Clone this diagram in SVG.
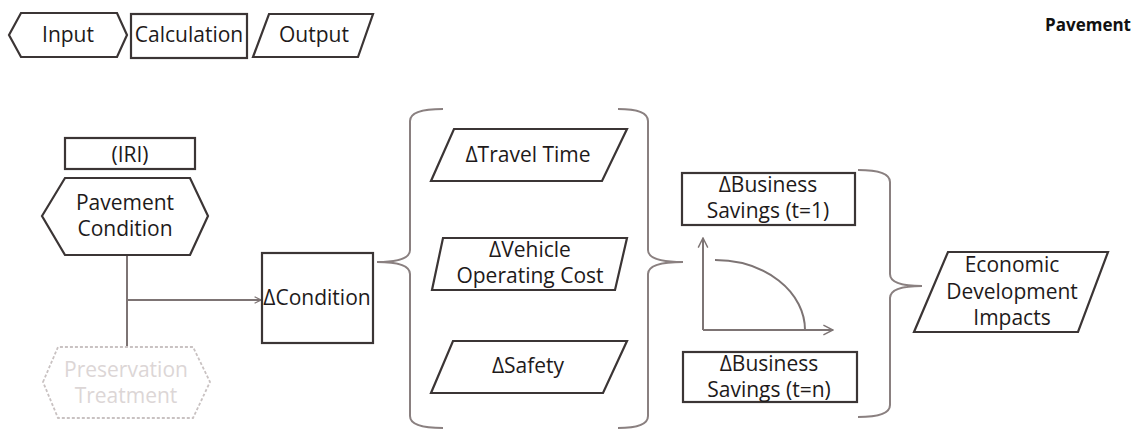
<svg xmlns="http://www.w3.org/2000/svg" width="1132" height="432" viewBox="0 0 1132 432">
<defs>
<style>
.shape{fill:none;stroke:#3b3535;stroke-width:2.2}
.dash{fill:none;stroke:#c9c2c2;stroke-width:1.8;stroke-dasharray:3,2}
.conn{fill:none;stroke:#7d7474;stroke-width:2}
.brace{fill:none;stroke:#8a8080;stroke-width:2}
.t{font-family:"Open Sans","Noto Sans",sans-serif;font-size:21px;fill:#1e1a1a;text-anchor:middle}
.faint{fill:#dcd6d6}
.bold{font-family:"Open Sans","Noto Sans",sans-serif;font-size:17px;font-weight:bold;fill:#111;text-anchor:end}
</style>
<marker id="arr" viewBox="0 0 10 10" refX="9" refY="5" markerWidth="8" markerHeight="8" markerUnits="userSpaceOnUse" orient="auto">
<path d="M1,1 L9,5 L1,9" fill="none" stroke="#7d7474" stroke-width="1.5"/>
</marker>
<marker id="arr2" viewBox="0 0 10 10" refX="9" refY="5" markerWidth="12" markerHeight="12" markerUnits="userSpaceOnUse" orient="auto">
<path d="M1,1 L9,5 L1,9" fill="none" stroke="#7d7474" stroke-width="1.2"/>
</marker>
</defs>
<rect width="1132" height="432" fill="#ffffff"/>

<g id="legend-input">
<polygon class="shape" points="9,35 21,13 117,13 127,35 117,57 21,57"/>
<text class="t" x="68" y="42">Input</text>
</g>
<g id="legend-calculation">
<rect class="shape" x="131" y="14" width="116" height="44"/>
<text class="t" x="189" y="42">Calculation</text>
</g>
<g id="legend-output">
<polygon class="shape" points="269,14 373,14 358,57 253,57"/>
<text class="t" x="314" y="42">Output</text>
</g>
<g id="title">
<text class="bold" x="1131" y="31">Pavement</text>
</g>

<g id="connectors">
<line class="conn" x1="127" y1="255" x2="127" y2="347"/>
<line class="conn" x1="127" y1="300" x2="261" y2="300" marker-end="url(#arr)"/>
<path class="brace" d="M443,109 Q410,109 410,121 L410,250 Q410,262 377,262 Q410,262 410,274 L410,416 Q410,428 443,428"/>
<path class="brace" d="M618,109 Q648,109 648,121 L648,250 Q648,262 683,262 Q648,262 648,274 L648,416 Q648,428 618,428"/>
<path class="brace" d="M858,170 Q890,170 890,182 L890,274 Q890,286 922,286 Q890,286 890,298 L890,405 Q890,417 858,417"/>
</g>

<g id="iri">
<rect class="shape" x="65" y="138" width="130" height="31" stroke-width="1.6"/>
<text class="t" x="130" y="162">(IRI)</text>
</g>
<g id="pavement-condition">
<polygon class="shape" points="42,216 65,178 190,178 208,216 190,255 65,255"/>
<text class="t" x="125" y="210">Pavement</text>
<text class="t" x="125" y="236">Condition</text>
</g>
<g id="preservation-treatment">
<polygon class="dash" points="43,382 58,347 193,347 210,382 193,418 58,418"/>
<text class="t faint" x="126" y="377">Preservation</text>
<text class="t faint" x="126" y="403">Treatment</text>
</g>
<g id="delta-condition">
<rect class="shape" x="262" y="253" width="111" height="90"/>
<text class="t" x="317" y="305">ΔCondition</text>
</g>
<g id="travel-time">
<polygon class="shape" points="454,129 627,129 602,181 431,181"/>
<text class="t" x="528" y="162">ΔTravel Time</text>
</g>
<g id="vehicle-operating-cost">
<polygon class="shape" points="443,238 627,238 615,290 432,290"/>
<text class="t" x="530" y="257">ΔVehicle</text>
<text class="t" x="530" y="283">Operating Cost</text>
</g>
<g id="safety">
<polygon class="shape" points="453,341 627,341 603,393 431,393"/>
<text class="t" x="528" y="373">ΔSafety</text>
</g>
<g id="business-savings-1">
<rect class="shape" x="682" y="173" width="173" height="52"/>
<text class="t" x="768" y="192">ΔBusiness</text>
<text class="t" x="768" y="218">Savings (t=1)</text>
</g>
<g id="graph">
<line class="conn" x1="703" y1="330" x2="703" y2="238" marker-end="url(#arr2)"/>
<line class="conn" x1="703" y1="330" x2="833" y2="330" marker-end="url(#arr2)"/>
<path class="conn" d="M715,260 A90,70 0 0 1 805,330"/>
</g>
<g id="business-savings-n">
<rect class="shape" x="683" y="352" width="174" height="50"/>
<text class="t" x="769" y="371">ΔBusiness</text>
<text class="t" x="769" y="397">Savings (t=n)</text>
</g>
<g id="economic-development">
<polygon class="shape" points="948,252 1108,252 1078,332 914,332"/>
<text class="t" x="1012" y="272">Economic</text>
<text class="t" x="1012" y="299">Development</text>
<text class="t" x="1012" y="325">Impacts</text>
</g>
</svg>
